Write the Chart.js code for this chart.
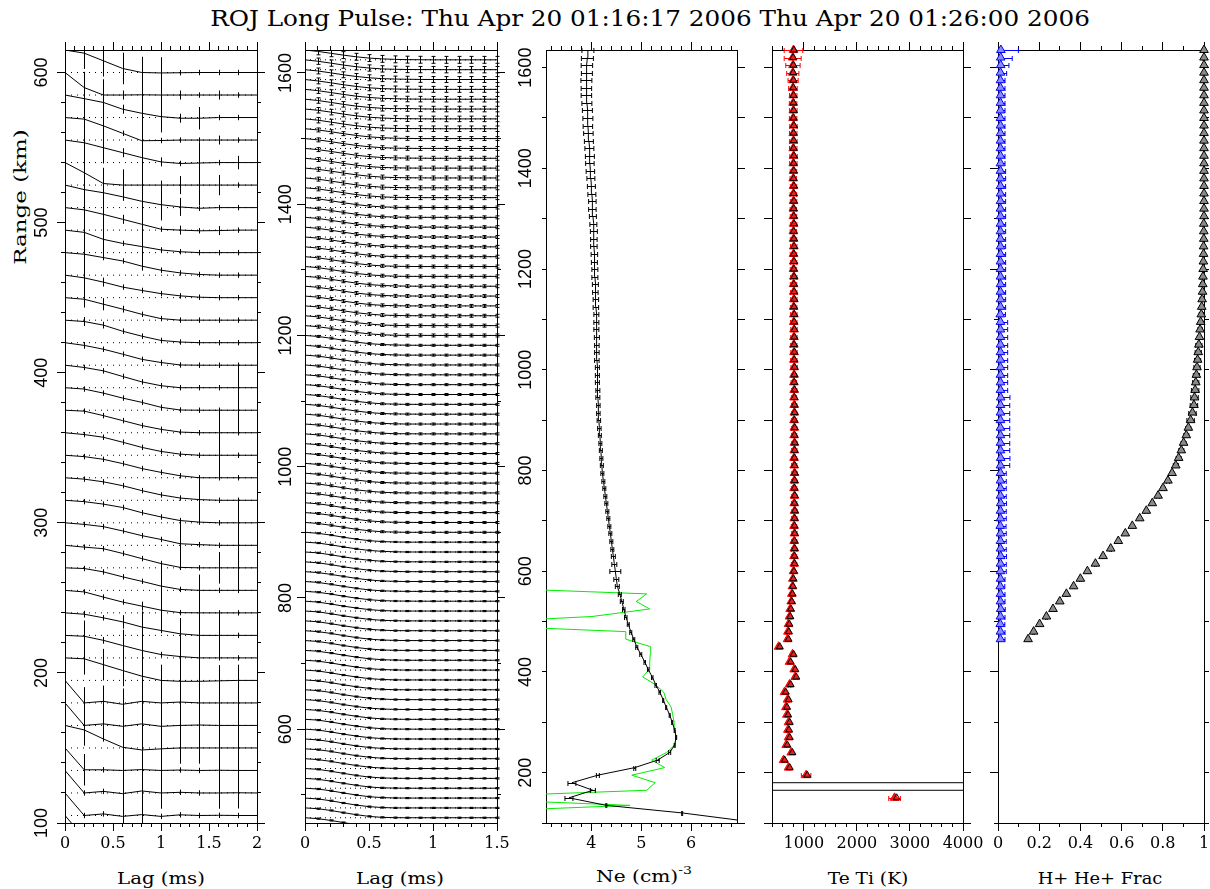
<!DOCTYPE html>
<html><head><meta charset="utf-8">
<script src="https://cdn.jsdelivr.net/npm/chart.js@4.4.0/dist/chart.umd.min.js"></script>
<style>
html,body{margin:0;padding:0;background:#fff}
body{width:1210px;height:889px;overflow:hidden;position:relative}
canvas{position:absolute;left:0;top:0}
.t{position:absolute;white-space:nowrap;color:#000;font-family:"DejaVu Serif",serif;line-height:1}
.t sup{font-size:70%;position:relative;top:-2px}
</style></head><body>
<div class="t" data-w="880" style="left:650px;top:19px;font-size:22px">ROJ Long Pulse: Thu Apr 20 01:16:17 2006 Thu Apr 20 01:26:00 2006</div>
<div class="t" data-w="135" data-rot="1" style="left:20px;top:197px;font-size:17px">Range (km)</div>
<div class="t" data-w="88" style="left:161px;top:878px;font-size:17px">Lag (ms)</div>
<div class="t" data-w="88" style="left:400px;top:878px;font-size:17px">Lag (ms)</div>
<div class="t" data-w="96" style="left:644px;top:876px;font-size:17px">Ne (cm)<sup>-3</sup></div>
<div class="t" data-w="81" style="left:868px;top:878px;font-size:17px">Te Ti (K)</div>
<div class="t" data-w="125" style="left:1100px;top:878px;font-size:17px">H+ He+ Frac</div>
<canvas id="c1" width="1210" height="889"></canvas>
<canvas id="c2" width="1210" height="889"></canvas>
<canvas id="c3" width="1210" height="889"></canvas>
<canvas id="c4" width="1210" height="889"></canvas>
<canvas id="c5" width="1210" height="889"></canvas>
<script>
// ---------------- DATA ----------------
const gateSpan = 15; // km between range gates (ACF amplitude scale)

// Panel 1: ACF lag profiles, low ranges
const p1Gates = [90,105,120,135,150,165,180,195,210,225,240,255,270,285,300,315,330,345,360,375,390,405,420,435,450,465,480,495,510,525,540,555,570,585,600];
const p1Lags = [0,0.2,0.4,0.6,0.8,1.0,1.2,1.4,1.6,1.8,2.0];
const p1Acf = [
[1,0,.05,-.03,.04,-.03,.03,0,0,0,0],
[1,0,.07,-.04,.04,-.04,.03,0,.01,0,0],
[1,0,.07,-.03,.09,0,.03,0,0,.01,0],
[1,.03,.03,0,.04,0,.02,0,.01,0,0],
[1,.8,.4,.03,-.09,-.04,0,0,0,0,0],
[1,0,.07,-.04,.07,-.04,0,.02,0,0,0],
[1,0,.07,-.06,.07,0,.04,0,0,0,0],
[1,.96,.7,.44,.19,0,-.04,-.04,-.02,0,0],
[1,.96,.78,.55,.33,.15,.06,0,0,0,0],
[1,.94,.78,.6,.37,.22,.07,0,0,0,0],
[1,.93,.7,.48,.3,.12,.01,0,0,0,0],
[1,.97,.82,.6,.4,.19,.04,0,0,0,0],
[1,.92,.85,.64,.41,.19,.02,0,0,0,0],
[1,.93,.83,.64,.43,.26,.07,.03,0,0,0],
[1,.94,.83,.68,.45,.26,.1,.03,0,0,0],
[1,.94,.82,.65,.43,.24,.1,.03,0,0,0],
[1,.94,.82,.63,.41,.24,.09,0,0,0,0],
[1,.92,.8,.58,.35,.17,.05,0,0,0,0],
[1,.96,.76,.54,.32,.15,.03,0,0,0,0],
[1,.94,.76,.54,.35,.13,.01,0,0,0,0],
[1,.9,.75,.5,.26,.09,0,0,0,0,0],
[1,.88,.71,.49,.26,.12,.01,0,0,0,0],
[1,.94,.78,.51,.29,.1,.03,0,0,0,0],
[1,.93,.71,.49,.26,.07,0,0,0,0,0],
[1,.88,.69,.47,.32,.18,.08,.02,0,0,0],
[1,.93,.78,.63,.4,.22,.1,.03,0,0,0],
[1,.9,.59,.41,.27,.12,.04,0,0,0,0],
[1,.9,.7,.48,.26,.04,0,-.03,-.02,0,0],
[1,.8,.66,.48,.28,.13,.03,-.03,0,0,0],
[1,.55,.07,0,0,0,0,0,0,0,0],
[1,.88,.66,.44,.22,.03,-.04,-.02,0,0,0],
[1,.93,.63,.3,-.03,-.02,0,0,0,0,0],
[1,.84,.67,.37,.19,.04,-.03,-.03,0,0,0],
[1,.33,0,0,.01,0,0,0,0,0,0],
[1,.86,.52,.18,0,-.02,-.01,0,0,0,0]
];
const p1Err = [
[0,0,0,0,0,0,0,0,0,0,0],
[0,.12,.12,.7,.7,.12,.12,.12,.12,.12,0],
[0,.12,.12,.7,.7,.7,.12,.12,.7,.7,0],
[0,.7,.12,.7,.7,.7,.12,.12,.7,.7,0],
[0,.7,.12,.7,.7,.7,.7,.7,.7,.7,0],
[0,.7,.7,.7,.7,.7,.7,.7,.7,.7,0],
[0,.7,.7,.7,.7,.7,.7,.7,.7,.7,0],
[0,.7,.7,.7,.7,.7,.7,.7,.7,.7,0],
[0,.7,.15,.7,.7,.12,.7,.7,.12,.12,0],
[0,.15,.12,.3,.7,.12,.7,.7,1.0,.12,0],
[0,.12,.12,.12,.2,1.0,.12,.7,.12,.12,0],
[0,.12,.12,.12,.12,1.0,.12,.7,.12,.12,0],
[0,.12,.12,.12,.12,.12,.12,.12,.7,1.0,0],
[0,.12,.12,.12,.12,.12,1.0,.12,.12,1.0,0],
[0,.12,.12,.12,.12,.12,.12,.12,.12,1.0,0],
[0,.12,.12,.12,.12,.12,.12,1.0,.12,.12,0],
[0,.12,.12,.12,.12,.12,.12,.12,.12,.12,0],
[0,.12,.12,.12,.12,.12,.12,.12,1.0,.12,0],
[0,.12,.12,.12,.12,.12,.12,.12,1.0,.12,0],
[0,.12,.12,.12,.12,.12,.12,.12,.12,1.0,0],
[0,.12,.12,.12,.12,.12,.12,.12,.12,1.0,0],
[0,.15,.12,.12,.12,.12,.12,.12,.12,.12,0],
[0,.2,.15,.12,.12,.12,.12,.12,.12,.12,0],
[0,.37,.27,.15,.12,.12,.12,.12,.12,.12,0],
[0,.7,.2,.12,.12,.12,.12,.12,.12,.12,0],
[0,.7,.12,.12,.2,.12,.12,.12,.12,.12,0],
[0,.7,.7,.12,.7,.12,.12,.12,.12,.12,0],
[0,.7,.7,.2,.7,.12,.2,.12,.2,.12,0],
[0,.7,.7,.12,.7,.7,.4,.12,.12,.12,0],
[0,.7,.7,.7,.7,.2,.4,.9,.45,.12,0],
[0,.7,.7,.2,.7,.2,.12,.9,.12,.3,0],
[0,.7,.7,.12,.7,.12,.12,.12,.2,.12,0],
[0,.7,.7,.2,.7,.7,.2,.5,.12,.12,0],
[0,.7,.7,.2,.7,.7,.2,.12,.2,.12,0],
[0,.7,.7,.7,.7,.7,.12,.12,.12,.12,0]
];

// Panel 2: ACF lag profiles, high ranges
const p2Gates = [450,465,480,495,510,525,540,555,570,585,600,615,630,645,660,675,690,705,720,735,750,765,780,795,810,825,840,855,870,885,900,915,930,945,960,975,990,1005,1020,1035,1050,1065,1080,1095,1110,1125,1140,1155,1170,1185,1200,1215,1230,1245,1260,1275,1290,1305,1320,1335,1350,1365,1380,1395,1410,1425,1440,1455,1470,1485,1500,1515,1530,1545,1560,1575,1590,1605,1620];
const p2Lags = [0,0.1,0.2,0.3,0.4,0.5,0.6,0.7,0.8,0.9,1.0,1.1,1.2,1.3,1.4,1.5];
const p2Acf = [
[1,.91,.73,.51,.3,.13,.04,0,0,0,0,0,0,0,0,0],
[1,.92,.74,.52,.31,.14,.04,.01,0,0,0,0,0,0,0,0],
[1,.91,.73,.5,.29,.13,.04,0,0,0,0,0,0,0,0,0],
[1,.92,.74,.52,.31,.14,.05,.01,0,0,0,0,0,0,0,0],
[1,.91,.72,.5,.3,.13,.04,.01,0,0,0,0,0,0,0,0],
[1,.92,.73,.51,.3,.14,.05,.01,0,0,0,0,0,0,0,0],
[1,.91,.73,.51,.31,.14,.05,.01,0,0,0,0,0,0,0,0],
[1,.92,.74,.52,.31,.15,.05,.01,0,0,0,0,0,0,0,0],
[1,.91,.73,.51,.3,.14,.05,.01,0,0,0,0,0,0,0,0],
[1,.91,.72,.5,.3,.14,.05,.01,0,0,0,0,0,0,0,0],
[1,.92,.73,.51,.31,.15,.05,.01,0,0,0,0,0,0,0,0],
[1,.91,.73,.51,.31,.15,.05,.01,0,0,0,0,0,0,0,0],
[1,.91,.72,.5,.3,.14,.05,.01,0,0,0,0,0,0,0,0],
[1,.92,.73,.51,.31,.15,.06,.01,0,0,0,0,0,0,0,0],
[1,.91,.73,.51,.31,.15,.05,.01,0,0,0,0,0,0,0,0],
[1,.91,.72,.5,.3,.14,.05,.01,0,0,0,0,0,0,0,0],
[1,.91,.73,.51,.31,.15,.06,.02,0,0,0,0,0,0,0,0],
[1,.92,.73,.52,.32,.16,.06,.02,0,0,0,0,0,0,0,0],
[1,.91,.72,.5,.3,.15,.05,.01,0,0,0,0,0,0,0,0],
[1,.91,.73,.51,.31,.15,.06,.02,0,0,0,0,0,0,0,0],
[1,.91,.72,.51,.31,.15,.06,.01,0,0,0,0,0,0,0,0],
[1,.92,.73,.52,.32,.16,.06,.02,0,0,0,0,0,0,0,0],
[1,.91,.72,.5,.31,.15,.05,.01,0,0,0,0,0,0,0,0],
[1,.91,.73,.51,.31,.16,.06,.02,.01,0,0,0,0,0,0,0],
[1,.91,.72,.51,.31,.15,.06,.02,0,0,0,0,0,0,0,0],
[1,.91,.73,.52,.32,.16,.06,.02,0,0,0,0,0,0,0,0],
[1,.9,.72,.5,.31,.15,.06,.02,0,0,0,0,0,0,0,0],
[1,.91,.72,.51,.31,.16,.06,.02,0,0,0,0,0,0,0,0],
[1,.91,.73,.52,.32,.16,.07,.02,0,0,0,0,0,0,0,0],
[1,.9,.72,.5,.31,.15,.06,.02,0,0,0,0,0,0,0,0],
[1,.9,.72,.51,.31,.16,.06,.02,0,0,0,0,0,0,0,0],
[1,.91,.73,.52,.32,.16,.07,.02,.01,0,0,0,0,0,0,0],
[1,.9,.72,.5,.31,.16,.06,.02,0,0,0,0,0,0,0,0],
[1,.9,.72,.51,.32,.16,.07,.02,0,0,0,0,0,0,0,0],
[1,.91,.73,.52,.32,.17,.07,.02,0,0,0,0,0,0,0,0],
[1,.9,.72,.5,.31,.16,.06,.02,0,0,0,0,0,0,0,0],
[1,.9,.72,.51,.32,.16,.07,.02,.01,0,0,0,0,0,0,0],
[1,.9,.71,.5,.31,.16,.06,.02,0,0,0,0,0,0,0,0],
[1,.91,.72,.51,.32,.17,.07,.03,.01,0,0,0,0,0,0,0],
[1,.9,.71,.5,.31,.16,.06,.02,0,0,0,0,0,0,0,0],
[1,.9,.72,.51,.32,.17,.07,.02,.01,0,0,0,0,0,0,0],
[1,.9,.71,.5,.31,.16,.07,.02,0,0,0,0,0,0,0,0],
[1,.9,.72,.51,.32,.17,.07,.03,.01,0,0,0,0,0,0,0],
[1,.9,.71,.5,.31,.16,.06,.02,0,0,.01,0,0,0,0,0],
[1,.9,.72,.51,.32,.17,.07,.02,.01,0,0,0,0,0,0,0],
[1,.9,.71,.5,.31,.16,.07,.02,0,0,0,0,0,0,0,0],
[1,.89,.71,.5,.31,.16,.07,.02,0,0,0,0,0,0,0,0],
[1,.9,.72,.51,.32,.17,.07,.03,.01,0,0,0,0,0,0,0],
[1,.89,.71,.5,.31,.16,.07,.02,0,0,0,0,0,0,0,0],
[1,.9,.72,.51,.32,.17,.08,.03,.01,0,0,0,0,0,0,0],
[1,.89,.71,.5,.31,.16,.07,.02,0,.01,0,0,0,0,0,0],
[1,.89,.7,.49,.3,.16,.06,.02,0,0,0,0,0,0,0,0],
[1,.9,.71,.5,.31,.17,.07,.03,.01,0,0,0,0,0,0,0],
[1,.89,.7,.49,.3,.15,.06,.02,0,0,0,0,0,0,0,0],
[1,.89,.71,.5,.31,.16,.07,.02,.01,0,0,0,0,0,0,0],
[1,.9,.71,.51,.32,.17,.08,.03,.01,0,0,.01,0,0,0,0],
[1,.89,.7,.49,.3,.16,.07,.02,0,0,0,0,0,0,0,0],
[1,.89,.7,.5,.31,.16,.07,.03,.01,0,0,0,0,0,0,0],
[1,.88,.7,.49,.3,.15,.06,.02,.01,0,0,0,0,0,0,0],
[1,.89,.71,.5,.31,.17,.08,.03,.01,0,0,0,0,0,0,0],
[1,.88,.7,.49,.3,.16,.07,.02,0,0,0,0,0,0,0,0],
[1,.89,.7,.5,.32,.17,.08,.03,.01,0,.01,0,0,0,0,0],
[1,.88,.7,.5,.31,.16,.07,.03,.01,0,0,0,0,0,0,0],
[1,.88,.69,.48,.3,.15,.07,.02,0,.01,0,0,0,0,0,0],
[1,.89,.7,.5,.31,.17,.08,.03,.02,0,0,0,0,0,0,0],
[1,.88,.69,.49,.3,.16,.07,.03,.01,0,0,0,.01,0,0,0],
[1,.88,.7,.5,.32,.18,.09,.04,.02,.01,0,0,0,0,0,0],
[1,.87,.69,.48,.3,.16,.07,.03,.01,0,0,0,0,0,0,0],
[1,.88,.7,.5,.31,.17,.08,.04,.02,.01,0,0,0,0,0,0],
[1,.87,.69,.49,.31,.17,.08,.03,.01,0,0,0,0,0,0,0],
[1,.88,.7,.5,.32,.18,.09,.04,.02,0,0,0,0,0,0,0],
[1,.87,.68,.48,.3,.16,.08,.03,.02,.01,0,0,0,0,0,0],
[1,.88,.69,.49,.31,.17,.09,.04,.02,.01,0,0,0,0,0,0],
[1,.87,.68,.48,.3,.17,.08,.04,.05,.02,0,0,0,0,0,0],
[1,.87,.68,.49,.31,.18,.09,.05,.02,.01,0,0,0,0,0,0],
[1,.86,.67,.47,.3,.16,.08,.04,.02,.01,0,0,0,0,0,0],
[1,.87,.68,.48,.31,.18,.09,.05,.03,.01,0,0,0,0,0,0],
[1,.86,.67,.47,.3,.17,.08,.04,.02,.01,.01,0,0,0,0,0],
[1,.86,.67,.48,.31,.18,.1,.05,.02,.01,0,0,0,0,0,0]
];
const p2Err = [.06,.06,.06,.06,.06,.06,.06,.06,.06,.06,.06,.06,.06,.06,.06,.06,.06,.06,.06,.06,.06,.06,.06,.06,.06,.06,.06,.06,.06,.06,
.1,.1,.1,.1,.1,.1,.1,.1,.1,.1,.1,.1,.1,.1,.1,.1,.1,.1,.1,.1,
.15,.15,.15,.15,.15,.15,.15,.15,.15,.15,.15,.15,.15,.15,
.2,.2,.2,.2,.2,.2,.2,
.28,.28,.28,.28,.3,.3,.32,.35];

// Panel 3: electron density (log10)
const neRange = [105,120,135,150,165,180,195,210,225,240,255,270,285,300,315,330,345,360,375,390,405,420,435,450,465,480,495,510,525,540,555,570,585,600,615,630,645,660,675,690,705,720,735,750,765,780,795,810,825,840,855,870,885,900,915,930,945,960,975,990,1005,1020,1035,1050,1065,1080,1095,1110,1125,1140,1155,1170,1185,1200,1215,1230,1245,1260,1275,1290,1305,1320,1335,1350,1365,1380,1395,1410,1425,1440,1455,1470,1485,1500,1515,1530,1545,1560,1575,1590,1605,1620,1635];
const neVal = [7.0,5.82,4.30,3.55,4.03,3.61,4.13,4.87,5.33,5.57,5.67,5.70,5.67,5.62,5.57,5.50,5.44,5.37,5.29,5.22,5.14,5.07,4.99,4.91,4.85,4.79,4.74,4.69,4.65,4.61,4.57,4.52,4.50,4.48,4.46,4.44,4.42,4.40,4.38,4.36,4.34,4.32,4.30,4.28,4.26,4.24,4.22,4.21,4.20,4.19,4.18,4.17,4.16,4.15,4.14,4.14,4.13,4.13,4.12,4.12,4.12,4.11,4.11,4.11,4.11,4.10,4.10,4.10,4.09,4.09,4.08,4.08,4.07,4.07,4.06,4.06,4.05,4.05,4.05,4.04,4.03,4.02,4.02,4.01,4.00,3.99,3.98,3.97,3.97,3.96,3.95,3.94,3.93,3.93,3.92,3.91,3.90,3.90,3.90,3.91,3.91,3.92,3.93];
const neErr = [0,.01,.01,.08,.05,.08,.03,.02,.03,.02,
.01,.01,.01,.01,.01,.01,.01,.015,.015,.015,
.015,.015,.02,.02,.02,.02,.02,.025,.025,.03,
.03,.04,.05,.11,.05,.04,.03,.03,.03,.03,
.03,.03,.03,.03,.03,.03,.03,.03,.03,.03,
.03,.03,.035,.035,.035,.035,.04,.04,.04,.04,
.04,.045,.045,.045,.05,.05,.05,.05,.055,.055,
.055,.06,.06,.06,.06,.065,.065,.065,.07,.07,
.07,.075,.075,.08,.08,.08,.085,.085,.09,.09,
.09,.095,.095,.1,.1,.1,.105,.105,.11,.11,
.115,.12,.12];
const neAltRange = [120,135,150,165,180,195,210,225,240,255,270,285,300,315,330,345,360,375,390,405,420,435,450,465,480,495,510,525,540,555,570];
const neAltVal = [1.0,4.77,1.0,5.11,5.28,4.81,5.47,5.21,5.51,5.67,5.70,5.67,5.66,5.63,5.60,5.50,5.45,5.28,5.03,5.16,5.17,5.18,5.19,4.69,4.69,1.0,4.01,5.17,4.90,5.11,1.0];

// Panel 4: temperatures
const tempRange = [150,195,210,225,240,255,270,285,300,315,330,345,360,375,390,405,420,435,450,465,480,495,510,525,540,555,570,585,600,615,630,645,660,675,690,705,720,735,750,765,780,795,810,825,840,855,870,885,900,915,930,945,960,975,990,1005,1020,1035,1050,1065,1080,1095,1110,1125,1140,1155,1170,1185,1200,1215,1230,1245,1260,1275,1290,1305,1320,1335,1350,1365,1380,1395,1410,1425,1440,1455,1470,1485,1500,1515,1530,1545,1560,1575,1590,1605,1620,1635];
const teVal = [2710,1043,711,618,762,668,711,700,711,681,662,693,636,730,836,818,730,786,524,
693,700,711,730,743,762,774,786,793,806,818,815,820,818,822,815,820,825,818,822,816,820,824,818,815,820,823,817,820,815,820,818,815,818,812,815,818,812,815,810,813,815,810,812,808,812,810,806,810,805,808,805,810,806,803,808,805,802,806,803,806,800,804,802,806,800,803,800,805,798,802,798,800,795,798,792,795,790,805];
const teErr = [110,90,25,25,25,25,25,25,25,25,25,25,25,25,25,25,25,25,25,
30,30,30,30,30,30,30,30,30,30,
50,50,50,50,50,50,50,50,50,50,50,50,50,50,50,50,50,50,50,50,50,50,50,50,50,50,
60,60,60,60,60,60,60,60,60,60,60,60,60,60,60,60,60,60,60,60,60,60,60,60,60,60,60,
70,70,70,70,70,70,70,70,70,70,
80,95,115,135,160,175];
const tiVal = [2750,1065,735,640,785,690,735,722,735,705,685,715,660,752,858,840,752,808,548,
712,718,728,745,757,774,786,796,804,815,826,824,828,826,830,824,828,832,826,830,824,828,831,826,823,828,830,825,828,823,828,826,823,826,820,823,826,820,823,818,821,823,818,820,816,820,818,814,818,813,816,813,818,814,811,816,813,810,814,811,814,808,812,810,814,808,811,808,813,806,810,806,808,803,806,800,803,798,812];
const tempLimitRanges = [165,180];

// Panel 5: ion fractions
const ionRange = [465,480,495,510,525,540,555,570,585,600,615,630,645,660,675,690,705,720,735,750,765,780,795,810,825,840,855,870,885,900,915,930,945,960,975,990,1005,1020,1035,1050,1065,1080,1095,1110,1125,1140,1155,1170,1185,1200,1215,1230,1245,1260,1275,1290,1305,1320,1335,1350,1365,1380,1395,1410,1425,1440,1455,1470,1485,1500,1515,1530,1545,1560,1575,1590,1605,1620,1635];
const hVal = [.146,.173,.202,.235,.267,.300,.332,.367,.400,.434,
.473,.510,.547,.584,.618,.652,.688,.720,.749,.777,
.801,.825,.845,.863,.877,.890,.901,.914,.924,.935,
.944,.951,.954,.957,.960,.963,.966,.969,.972,.975,
.978,.981,.984,.987,.989,.991,.993,.994,.995,.996,
.997,.998,.998,.999,.999,.999,1,1,1,1,
1,1,1,1,1,1,1,1,1,1,
1,1,1,1,1,1,1,1,1];
const hErr = [.004,.004,.004,.004,.004,.004,.004,.004,.004,.004,.004,.004,.004,.004,.004,.004,
.008,.008,.008,.008,.008,.008,.008,
.012,.012,.012,.012,.012,.012,
.018,.018,.018,.018,.018,
.015,.015,.015,.015,.015,.015,
.01,.01,.01,.01,.01,.01,.01,.01,.01,
.005,.005,.005,.005,.005,.005,.005,.005,.005,.005,.005,.005,.005,.005,.005,.005,.005,.005,.005,.005,.005,.005,.005,.005,.005,.005,.005,.005,.005,.008];
const heVal = [.012,.012,.011,.012,.013,.012,.012,.011,.012,.012,.012,.013,.012,.012,.012,.011,.012,.012,.013,.012,
.012,.012,.012,.012,.013,.012,.012,.012,.012,.012,.012,.012,.013,.012,.012,.012,.012,.012,.012,.012,
.012,.012,.012,.011,.012,.012,.012,.012,.012,.012,.012,.012,.012,.012,.012,.012,.012,.012,.012,.012,
.012,.012,.012,.012,.012,.012,.012,.012,.012,.012,.012,.012,.012,.012,.012,.012,.013,.013,.014];
const heErr = [.022,.022,.022,.022,.022,.022,.022,.022,.022,
.028,.028,.028,.028,.028,.028,.028,.028,.028,.028,.028,.028,.028,.028,
.045,.045,.045,.045,.045,.045,.045,.045,.045,.045,
.035,.035,.035,.035,.035,.035,.035,.035,.035,.035,
.025,.025,.025,.025,.025,.025,.025,.025,.025,.025,.025,.025,.025,.025,.025,.025,.025,.025,.025,.025,
.022,.022,.022,.022,.022,.022,.022,.022,.022,.022,.022,.022,
.03,.04,.056,.085];

// ---------------- RENDERING ----------------
const W = 1210, H = 889;
Chart.defaults.animation = false;

const errBars = {
  id: 'errBars',
  beforeDatasetDraw(chart, args) {
    const ds = chart.data.datasets[args.index];
    if (!ds.err) return;
    const meta = args.meta;
    const xs = chart.scales[meta.xAxisID], ys = chart.scales[meta.yAxisID];
    const a = chart.chartArea, ctx = chart.ctx;
    ctx.save();
    ctx.beginPath();
    if (ds.errDir === 'x') ctx.rect(a.left, 0, a.right - a.left, H);
    else ctx.rect(0, a.top, W, a.bottom - a.top);
    ctx.clip();
    ctx.strokeStyle = ds.errColor || '#000';
    ctx.lineWidth = 1;
    const cap = ds.errCap || 0;
    ctx.beginPath();
    ds.data.forEach((p, j) => {
      const e = ds.err[j];
      if (!e || !p) return;
      if (ds.errDir === 'x') {
        const y = Math.round(ys.getPixelForValue(p.y)) + 0.5;
        const x1 = xs.getPixelForValue(p.x - e), x2 = xs.getPixelForValue(p.x + e);
        ctx.moveTo(x1, y); ctx.lineTo(x2, y);
        if (cap) { ctx.moveTo(x1, y - cap); ctx.lineTo(x1, y + cap); ctx.moveTo(x2, y - cap); ctx.lineTo(x2, y + cap); }
      } else {
        const x = Math.round(xs.getPixelForValue(p.x)) + 0.5;
        const y1 = ys.getPixelForValue(p.y - e), y2 = ys.getPixelForValue(p.y + e);
        ctx.moveTo(x, y1); ctx.lineTo(x, y2);
        if (cap) { ctx.moveTo(x - cap, y1); ctx.lineTo(x + cap, y1); ctx.moveTo(x - cap, y2); ctx.lineTo(x + cap, y2); }
      }
    });
    ctx.stroke();
    ctx.restore();
  }
};

function tickText(items) {
  return { id: 'tickText', afterDraw(chart) {
    const ctx = chart.ctx, a = chart.chartArea;
    items.forEach(it => {
      const s = chart.scales[it.scale];
      ctx.save();
      ctx.font = it.font; ctx.fillStyle = '#000';
      ctx.textAlign = 'center'; ctx.textBaseline = 'middle';
      s.ticks.forEach(t => {
        const txt = String(+t.value.toFixed(4));
        const p = s.getPixelForValue(t.value);
        if (s.isHorizontal()) ctx.fillText(txt, p, a.bottom + it.off);
        else { ctx.save(); ctx.translate(a.left - it.off, p); ctx.rotate(-Math.PI / 2); ctx.fillText(txt, 0, 1); ctx.restore(); }
      });
      ctx.restore();
    });
  }};
}

function ax(axis, pos, min, max, step, len) {
  return {
    type: 'linear', axis, position: pos, min, max, display: true,
    afterFit: s => { if (axis === 'x') s.height = 0; else s.width = 0; },
    afterBuildTicks: s => {
      const t = [];
      const n0 = Math.ceil(min / step - 1e-9), n1 = Math.floor(max / step + 1e-9);
      for (let n = n0; n <= n1; n++) t.push({ value: +(n * step).toFixed(6) });
      s.ticks = t;
    },
    ticks: { display: false, stepSize: step, includeBounds: false, autoSkip: false },
    grid: { display: len > 0, drawOnChartArea: false, drawTicks: len > 0, tickLength: len || 1, tickColor: '#000', tickWidth: 1, lineWidth: 1, color: '#000' },
    border: { display: true, color: '#000', width: 1 }
  };
}

function makePanel(id, area, xr, yr, t, datasets, labels) {
  const scales = {
    x:  ax('x', 'bottom', xr[0], xr[1], t.xMaj, 8),
    xm: ax('x', 'bottom', xr[0], xr[1], t.xMin, 4),
    xt: ax('x', 'top', xr[0], xr[1], t.xMaj, 8),
    xtm: ax('x', 'top', xr[0], xr[1], t.xMin, 4),
    y:  ax('y', 'left', yr[0], yr[1], t.yL[0], t.yL[2]),
    ym: ax('y', 'left', yr[0], yr[1], t.yL[1], t.yL[3]),
    yr: ax('y', 'right', yr[0], yr[1], t.yR[0], t.yR[2]),
    yrm: ax('y', 'right', yr[0], yr[1], t.yR[1], t.yR[3])
  };
  return new Chart(document.getElementById(id), {
    type: 'scatter',
    data: { datasets },
    options: {
      responsive: false, animation: false, events: [],
      layout: { padding: { left: area[0], top: area[1], right: W - area[2], bottom: H - area[3] } },
      plugins: { legend: { display: false }, tooltip: { enabled: false }, title: { display: false } },
      elements: { line: { tension: 0 } },
      scales
    },
    plugins: [errBars, tickText(labels)]
  });
}

const XF = '16px "DejaVu Serif"', YF = '18px "Liberation Sans"';

// Panel 1
(function () {
  const ds = [];
  p1Gates.forEach((g, k) => {
    ds.push({ data: [{ x: p1Lags[0], y: g }, { x: p1Lags[p1Lags.length - 1], y: g }], showLine: true, borderColor: '#000', borderWidth: 1, borderDash: [1, 5], pointRadius: 0, order: 2, clip: 0 });
    ds.push({ data: p1Lags.map((L, i) => ({ x: L, y: g + gateSpan * p1Acf[k][i] })), showLine: true, borderColor: '#000', borderWidth: 1, pointRadius: 0, order: 1, clip: 0,
      err: p1Err[k].map(e => e * gateSpan), errDir: 'y', errCap: 0 });
  });
  makePanel('c1', [65, 50, 257, 823], [0, 2], [100, 615],
    { xMaj: 0.5, xMin: 0.1, yL: [100, 20, 8, 4], yR: [100, 20, 8, 4] }, ds,
    [{ scale: 'x', font: XF, off: 21 }, { scale: 'y', font: YF, off: 24 }]);
})();

// Panel 2
(function () {
  const ds = [];
  p2Gates.forEach((g, k) => {
    ds.push({ data: [{ x: p2Lags[0], y: g }, { x: p2Lags[p2Lags.length - 1], y: g }], showLine: true, borderColor: '#000', borderWidth: 1, borderDash: [1, 4], pointRadius: 0, order: 2, clip: 0 });
    ds.push({ data: p2Lags.map((L, i) => ({ x: L, y: g + gateSpan * p2Acf[k][i] })), showLine: true, borderColor: '#000', borderWidth: 1, pointRadius: 0, order: 1, clip: 0,
      err: p2Lags.map((L, i) => i === 0 ? 0 : p2Err[k] * gateSpan), errDir: 'y', errCap: 2 });
  });
  makePanel('c2', [305, 50, 497, 823], [0, 1.5], [457, 1635],
    { xMaj: 0.5, xMin: 0.1, yL: [200, 100, 8, 4], yR: [200, 100, 8, 4] }, ds,
    [{ scale: 'x', font: XF, off: 21 }, { scale: 'y', font: YF, off: 20 }]);
})();

// Panel 3
(function () {
  const ds = [
    { data: neRange.map((r, i) => ({ x: neVal[i], y: r })), showLine: true, borderColor: '#000', borderWidth: 1, pointRadius: 0, clip: 0, order: 0,
      err: neErr, errDir: 'x', errCap: 2.5 },
    { data: neAltRange.map((r, i) => ({ x: neAltVal[i], y: r })), showLine: true, borderColor: '#00ee00', borderWidth: 1, pointRadius: 0, clip: 0, order: 1 }
  ];
  makePanel('c3', [546, 50, 737, 823], [3.09, 6.92], [100, 1635],
    { xMaj: 1, xMin: 0.2, yL: [200, 100, 4, 4], yR: [100, 100, 8, 8] }, ds,
    [{ scale: 'x', font: XF, off: 21 }, { scale: 'y', font: YF, off: 21 }]);
})();

// Panel 4
(function () {
  const xr = [400, 4000];
  const ds = [
    { data: tempRange.map((r, i) => ({ x: tiVal[i], y: r })), pointStyle: 'triangle', pointRadius: 4, pointBorderWidth: 1,
      pointBorderColor: '#000', pointBackgroundColor: 'rgba(0,0,0,0)', clip: false, order: 0 },
    { data: tempRange.map((r, i) => ({ x: teVal[i], y: r })), pointStyle: 'triangle', pointRadius: 5, pointBorderWidth: 1,
      pointBorderColor: '#ff0000', pointBackgroundColor: '#e82020', clip: false, order: 1,
      err: teErr, errDir: 'x', errCap: 2.5, errColor: '#ff0000' }
  ];
  tempLimitRanges.forEach(r => ds.push({ data: [{ x: xr[0], y: r }, { x: xr[1], y: r }], showLine: true, borderColor: '#000', borderWidth: 1, pointRadius: 0, clip: 0, order: 2 }));
  makePanel('c4', [772, 50, 963, 823], xr, [100, 1635],
    { xMaj: 1000, xMin: 200, yL: [100, 100, 8, 8], yR: [100, 100, 8, 8] }, ds,
    [{ scale: 'x', font: XF, off: 21 }]);
})();

// Panel 5
(function () {
  const ds = [
    { data: ionRange.map((r, i) => ({ x: hVal[i], y: r })), pointStyle: 'triangle', pointRadius: 5, pointBorderWidth: 1,
      pointBorderColor: '#000', pointBackgroundColor: '#8a8a8a', clip: false, order: 0,
      err: hErr, errDir: 'x', errCap: 2.5, errColor: '#000' },
    { data: ionRange.map((r, i) => ({ x: heVal[i], y: r })), pointStyle: 'triangle', pointRadius: 5, pointBorderWidth: 1,
      pointBorderColor: '#0000ff', pointBackgroundColor: '#8c8cff', clip: false, order: 1,
      err: heErr, errDir: 'x', errCap: 2.5, errColor: '#0000ff' }
  ];
  makePanel('c5', [998, 50, 1205, 823], [0, 1], [100, 1635],
    { xMaj: 0.2, xMin: 0.1, yL: [200, 100, 8, 4], yR: [100, 100, 5, 5] }, ds,
    [{ scale: 'x', font: XF, off: 21 }]);
})();

// text fitting
document.querySelectorAll('.t').forEach(el => {
  const k = (+el.dataset.w) / el.offsetWidth;
  el.style.transform = 'translate(-50%,-50%)' + (el.dataset.rot ? ' rotate(-90deg)' : '') + ' scaleX(' + k + ')';
});
</script>
</body></html>
